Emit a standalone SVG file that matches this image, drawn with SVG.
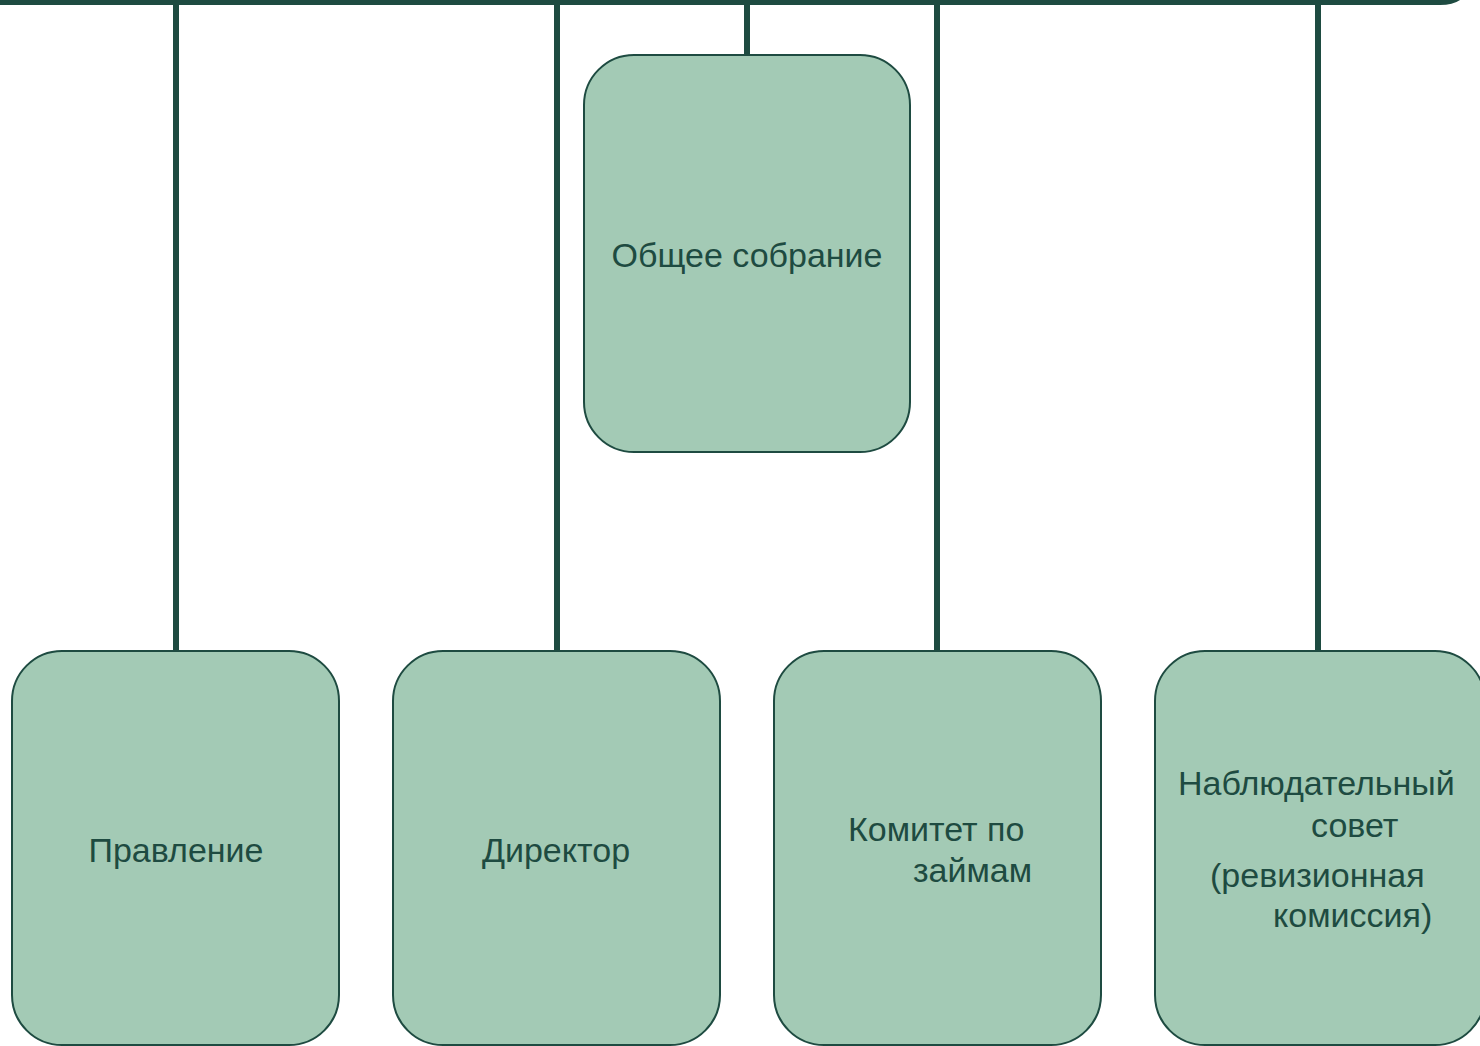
<svg xmlns="http://www.w3.org/2000/svg" width="1480" height="1046" viewBox="0 0 1480 1046">
<style>
.box{fill:#A3CAB5;stroke:#1E4B41;stroke-width:2}
.ln{stroke:#1E4B41;stroke-width:6;fill:none}
.t{font-family:"Liberation Sans",Arial,sans-serif;font-size:34px;fill:#1E4B41}
</style>
<rect width="1480" height="1046" fill="#ffffff"/>
<g id="connectors">
<path class="ln" d="M -5 2 H 1440 Q 1456 2 1462 -6"/>
<line class="ln" x1="176" y1="0" x2="176" y2="652"/>
<line class="ln" x1="557" y1="0" x2="557" y2="652"/>
<line class="ln" x1="747" y1="0" x2="747" y2="56"/>
<line class="ln" x1="937" y1="0" x2="937" y2="652"/>
<line class="ln" x1="1318" y1="0" x2="1318" y2="652"/>
</g>
<g id="node-obshchee">
<rect class="box" x="584" y="55" width="326" height="397" rx="50" ry="50"/>
<text class="t" x="747" y="267" text-anchor="middle">Общее собрание</text>
</g>
<g id="node-pravlenie">
<rect class="box" x="12" y="651" width="327" height="394" rx="50" ry="50"/>
<text class="t" x="176" y="862" text-anchor="middle">Правление</text>
</g>
<g id="node-direktor">
<rect class="box" x="393" y="651" width="327" height="394" rx="50" ry="50"/>
<text class="t" x="556" y="862" text-anchor="middle">Директор</text>
</g>
<g id="node-komitet">
<rect class="box" x="774" y="651" width="327" height="394" rx="50" ry="50"/>
<text class="t" x="848" y="841">Комитет по</text>
<text class="t" x="913" y="882">займам</text>
</g>
<g id="node-sovet">
<rect class="box" x="1155" y="651" width="330" height="394" rx="50" ry="50"/>
<text class="t" x="1178" y="795">Наблюдательный</text>
<text class="t" x="1311" y="837">совет</text>
<text class="t" x="1210" y="887">(ревизионная</text>
<text class="t" x="1273" y="927">комиссия)</text>
</g>
</svg>
